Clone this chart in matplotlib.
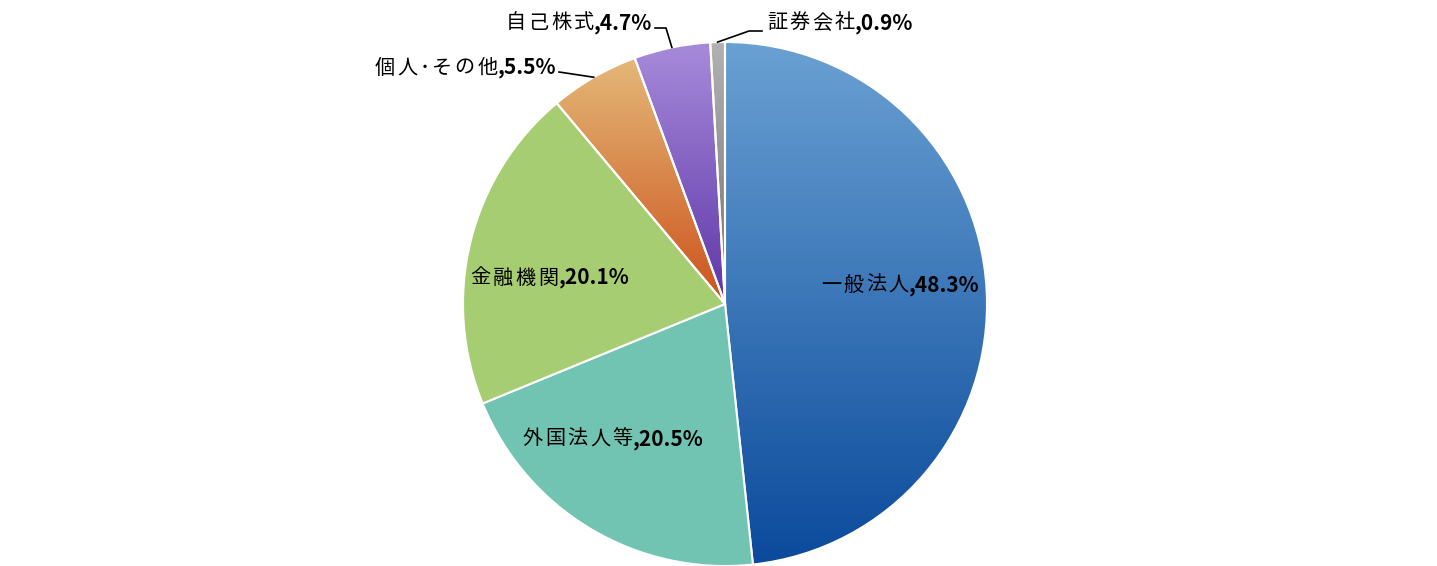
import numpy as np
import matplotlib
matplotlib.use("Agg")
import matplotlib.pyplot as plt
from matplotlib.colors import to_rgb

plt.rcParams['font.family'] = ['Noto Sans CJK JP', 'DejaVu Sans']

# data
categories = ["一般法人", "外国法人等", "金融機関", "個人･その他", "自己株式", "証券会社"]
shares = [48.3, 20.5, 20.1, 5.5, 4.7, 0.9]

# slice colours: (top, bottom); equal means flat fill
colors = [("#6aa1d3", "#0b4a9c"),
          ("#72c4b2", "#72c4b2"),
          ("#a7cd72", "#a7cd72"),
          ("#e4b878", "#cc521c"),
          ("#a78bda", "#5e36a8"),
          ("#b2b2b2", "#707070")]

W, H = 1437, 566
CX, CY, R = 725, 304, 262


def fy(y):
    # image y (top down) -> axes y
    return H - y


# label layout in image pixels: (x, y, ha, leader points from elbow to text)
label_layout = [
    (900, 285, "center", None),
    (613, 439, "center", None),
    (550, 278, "center", None),
    (556, 68, "right", [(559, 72)]),
    (652, 23, "right", [(666, 28), (655, 28)]),
    (767, 23, "left", [(749, 31), (762, 31)]),
]

fig = plt.figure(figsize=(W / 100, H / 100), dpi=100)
ax = fig.add_axes([0, 0, 1, 1])

wedges, _ = ax.pie(shares, startangle=90, counterclock=False,
                   center=(CX, fy(CY)), radius=R,
                   colors=[c[0] for c in colors],
                   wedgeprops=dict(edgecolor="white", linewidth=1.5))

for w, (top, bot) in zip(wedges, colors):
    if top == bot:
        continue
    ext = w.get_path().get_extents()
    n = 256
    t = np.linspace(0, 1, n)[:, None]
    grad = (1 - t) * np.array(to_rgb(bot)) + t * np.array(to_rgb(top))
    img = ax.imshow(grad[:, None, :], origin="lower", aspect="auto",
                    extent=(ext.x0, ext.x1, ext.y0, ext.y1),
                    interpolation="bilinear", zorder=w.get_zorder() - 0.1)
    img.set_clip_path(w)
    w.set_facecolor("none")

ax.set_xlim(0, W)
ax.set_ylim(0, H)
ax.set_aspect("equal")
ax.axis("off")

renderer = fig.canvas.get_renderer()
fs = 14.5
gap = 2.5  # extra spacing between the CJK characters
cum = np.cumsum([0] + shares)
for i, (name, val) in enumerate(zip(categories, shares)):
    x, y, ha, leader = label_layout[i]
    parts = []
    for k, ch in enumerate(name):
        t = ax.text(0, fy(y), ch, fontsize=fs, va="center", ha="left")
        extra = gap if k < len(name) - 1 else 0
        parts.append((t, t.get_window_extent(renderer).width + extra))
    t = ax.text(0, fy(y), ",%.1f%%" % val, fontsize=fs + 0.5, fontweight="bold",
                va="center", ha="left")
    parts.append((t, t.get_window_extent(renderer).width))
    total = sum(p[1] for p in parts)
    if ha == "center":
        x0 = x - total / 2
    elif ha == "right":
        x0 = x - total
    else:
        x0 = x
    for t, wd in parts:
        t.set_x(x0)
        x0 += wd
    if leader:
        mid = 90 - 3.6 * (cum[i] + cum[i + 1]) / 2
        ex = CX + R * np.cos(np.radians(mid))
        ey = CY - R * np.sin(np.radians(mid))
        pts = [(ex, ey)] + leader
        ax.plot([p[0] for p in pts], [fy(p[1]) for p in pts],
                color="black", linewidth=1.2, zorder=5)

fig.savefig("out.png", dpi=100)
